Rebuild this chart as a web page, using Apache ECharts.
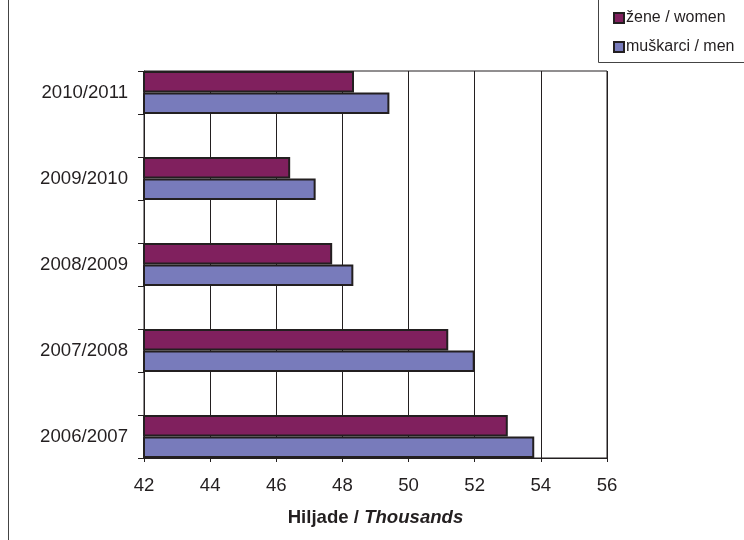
<!DOCTYPE html>
<html>
<head>
<meta charset="utf-8">
<script src="https://cdn.jsdelivr.net/npm/echarts@6/dist/echarts.min.js"></script>
<style>
html,body{margin:0;padding:0;background:#fff;}
#chart{width:744px;height:540px;}
</style>
</head>
<body>
<div id="chart"></div>
<script>
// Data (top to bottom as drawn)
const categories = ['2010/2011', '2009/2010', '2008/2009', '2007/2008', '2006/2007'];
const women = [48.35, 46.42, 47.69, 51.2, 53.0];
const men = [49.42, 47.19, 48.33, 52.0, 53.8];
const seriesNames = ['žene / women', 'muškarci / men'];
const xTicks = { min: 42, max: 56, interval: 2 };
const axisTitle = { bold: 'Hiljade / ', italic: 'Thousands' };

// Build slotted category list: a blank spacer slot between years
const slots = [], wSlots = [], mSlots = [];
categories.forEach((c, i) => {
  slots.push(c); wSlots.push(women[i]); mSlots.push(men[i]);
  if (i < categories.length - 1) { slots.push(' '.repeat(i + 1)); wSlots.push(null); mSlots.push(null); }
});

const ink = '#231f20';
const FF = 'Liberation Sans, Arial, sans-serif';
const FS = 18.6;
const chart = echarts.init(document.getElementById('chart'));
chart.setOption({
  animation: false,
  backgroundColor: '#fff',
  textStyle: { fontFamily: FF },
  graphic: [
    { type: 'line', z: 0, shape: { x1: 8.5, y1: 0, x2: 8.5, y2: 540 }, style: { stroke: '#444', lineWidth: 1 } },
    { type: 'rect', z: 0, shape: { x: 598.5, y: -10, width: 200, height: 72.5 }, style: { fill: '#fff', stroke: '#444', lineWidth: 1 } }
  ],
  legend: {
    orient: 'vertical',
    left: 608,
    top: 5,
    itemWidth: 10,
    itemHeight: 10,
    itemGap: 13,
    icon: 'rect',
    data: seriesNames,
    textStyle: { fontSize: 16, color: ink, fontFamily: FF, padding: [0, 0, 0, -3] }
  },
  grid: {
    left: 144, right: 137, top: 71, bottom: 82,
    show: true, borderColor: ink, borderWidth: 1
  },
  xAxis: {
    type: 'value',
    min: xTicks.min, max: xTicks.max, interval: xTicks.interval,
    axisLine: { show: true, lineStyle: { color: ink, width: 1 } },
    axisTick: { show: true, length: 4, lineStyle: { color: ink } },
    axisLabel: { fontSize: FS, color: ink, margin: 18, fontFamily: FF },
    splitLine: { show: true, lineStyle: { color: ink, width: 1 } },
    name: '{b|' + axisTitle.bold + '}{i|' + axisTitle.italic + '}',
    nameLocation: 'middle',
    nameGap: 50,
    nameTextStyle: {
      rich: {
        b: { fontSize: FS, fontWeight: 'bold', color: ink, fontFamily: FF },
        i: { fontSize: FS, fontWeight: 'bold', fontStyle: 'italic', color: ink, fontFamily: FF }
      }
    }
  },
  yAxis: {
    type: 'category',
    inverse: true,
    data: slots,
    axisLine: { show: true, lineStyle: { color: ink, width: 1 } },
    axisTick: { show: true, interval: 0, length: 6, lineStyle: { color: ink } },
    axisLabel: { interval: 0, fontSize: FS, color: ink, margin: 16, fontFamily: FF },
    splitLine: { show: false }
  },
  series: [
    {
      name: seriesNames[0], type: 'bar', data: wSlots,
      barGap: '0%', barCategoryGap: '0%',
      itemStyle: { color: '#80205e', borderColor: ink, borderWidth: 2 }
    },
    {
      name: seriesNames[1], type: 'bar', data: mSlots,
      barGap: '0%', barCategoryGap: '0%',
      itemStyle: { color: '#787bbb', borderColor: ink, borderWidth: 2 }
    }
  ]
});
</script>
</body>
</html>
